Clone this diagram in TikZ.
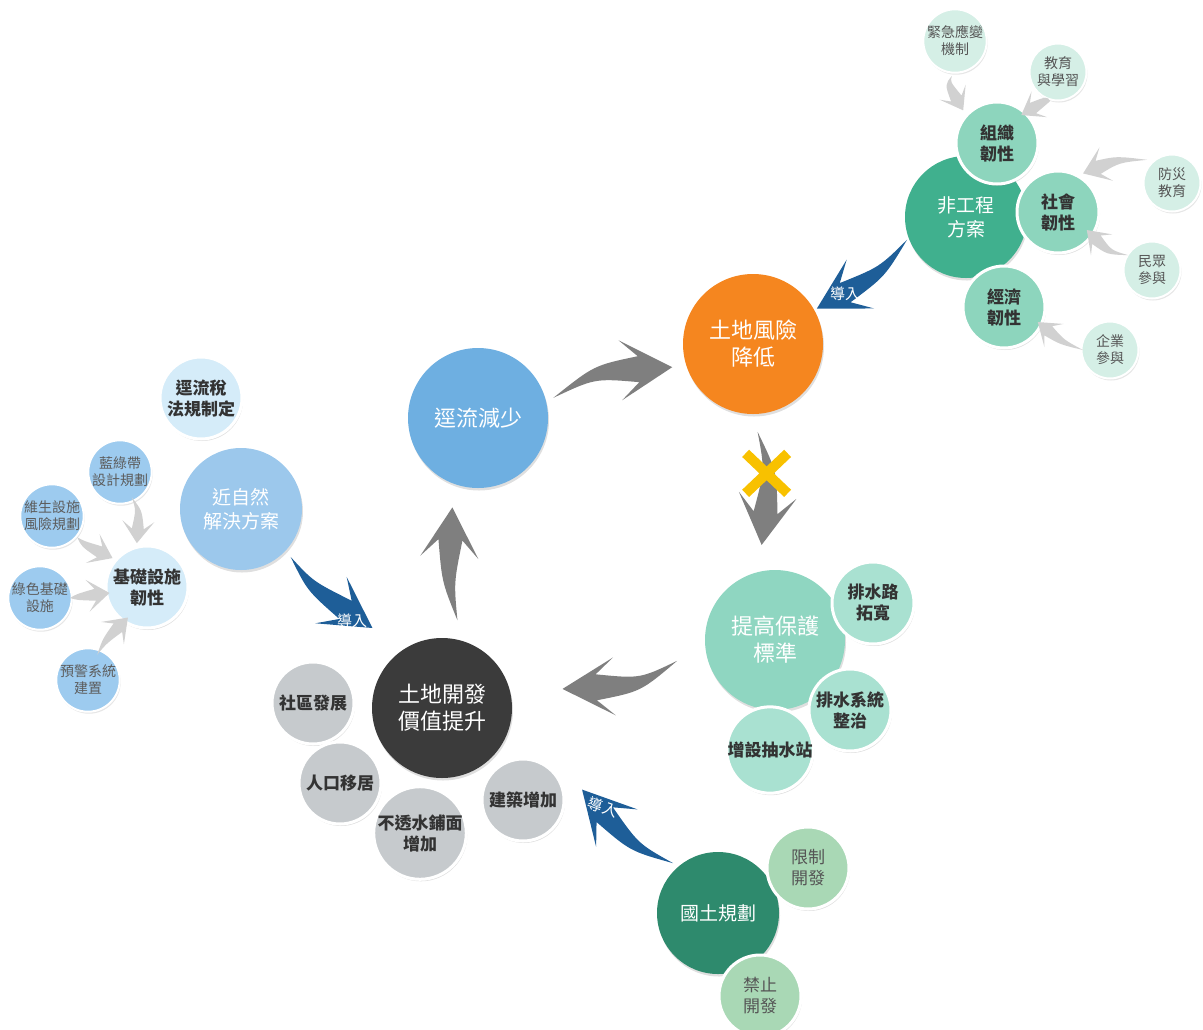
\documentclass[tikz,border=0pt]{standalone}
\usepackage{fontspec}
\setmainfont{Noto Sans CJK TC}
\usepackage{tikz}
\usetikzlibrary{calc,shadows}

\definecolor{runoffBlue}{HTML}{6EAFE1}
\definecolor{riskOrange}{HTML}{F5861F}
\definecolor{protectTeal}{HTML}{8FD6C1}
\definecolor{protectLight}{HTML}{A9E1D1}
\definecolor{devDark}{HTML}{3B3B3B}
\definecolor{devGray}{HTML}{C6CACD}
\definecolor{nonEngTeal}{HTML}{40B08E}
\definecolor{nonEngLight}{HTML}{8DD5BD}
\definecolor{nonEngPale}{HTML}{D5EFE6}
\definecolor{natureBlue}{HTML}{9CC8EC}
\definecolor{naturePale}{HTML}{D5ECF9}
\definecolor{natureLeaf}{HTML}{9DCBEF}
\definecolor{planGreen}{HTML}{2E8A6D}
\definecolor{planLight}{HTML}{A9D8B5}
\definecolor{flowGray}{HTML}{7F7F7F}
\definecolor{feedGray}{HTML}{D1D1D1}
\definecolor{leadBlue}{HTML}{1E5E98}
\definecolor{crossYellow}{HTML}{F8C100}
\definecolor{satText}{HTML}{333333}
\definecolor{leafText}{HTML}{555555}

% tapered curved arrow: style, tail, tip, bend, head length, head half width, body half width
\newcommand\swoosh[7]{%
  \coordinate (sw-c) at ($(#3)!1.5*#5!#4:(#2)$);
  \coordinate (sw-n) at ($(#3)!0.65*#5!(sw-c)$);
  \coordinate (sw-k) at ($(#3)!#5!(sw-c)$);
  \fill[#1] (#2) .. controls ($(sw-c)!0.5*#7!90:(#3)$) .. ($(sw-n)!#7!90:(#3)$)
    -- ($(sw-k)!#6!90:(#3)$) -- (#3) -- ($(sw-k)!#6!-90:(#3)$)
    -- ($(sw-n)!#7!-90:(#3)$) .. controls ($(sw-c)!0.5*#7!-90:(#3)$) .. (#2) -- cycle;}

\begin{document}
\begin{tikzpicture}[x=1pt, y=-1pt,
            hub/.style={circle, inner sep=0pt, minimum size=140pt, align=center, text=white,
                        font=\fontsize{22}{27}\selectfont,
                        drop shadow={shadow xshift=1pt, shadow yshift=-2.5pt, opacity=0.25}},
            subhub/.style={hub, minimum size=122pt, font=\fontsize{19}{24}\selectfont},
            satellite/.style={circle, draw=white, line width=3pt, inner sep=0pt, minimum size=82pt,
                        align=center, text=satText, font=\bfseries\fontsize{17}{21}\selectfont,
                        drop shadow={shadow xshift=1pt, shadow yshift=-2pt, opacity=0.25}},
            leaf/.style={circle, draw=white, line width=2pt, inner sep=0pt, minimum size=57pt,
                        align=center, text=leafText, font=\fontsize{14}{17}\selectfont,
                        drop shadow={shadow xshift=1pt, shadow yshift=-2pt, opacity=0.2}},
            cyclearrow/.style={fill=flowGray},
            leadarrow/.style={fill=leadBlue},
            feedarrow/.style={fill=feedGray},
            leadtext/.style={text=white, inner sep=0pt, font=\fontsize{15}{18}\selectfont},
            crossmark/.style={draw=crossYellow, line width=10pt}]
  \useasboundingbox (0,0) rectangle (1203,1029);

  \node[hub, fill=runoffBlue]  (runoff)  at (478,418) {逕流減少};
  \node[hub, fill=riskOrange]  (risk)    at (753,344) {土地風險\\降低};
  \node[hub, fill=protectTeal] (protect) at (775,640) {提高保護\\標準};
  \node[hub, fill=devDark]     (landdev) at (442,708) {土地開發\\價值提升};

  \node[satellite, fill=devGray] (community) at (313,703) {社區發展};
  \node[satellite, fill=devGray] (migrate)   at (340,783) {人口移居};
  \node[satellite, fill=devGray] (paving)    at (420,833) {不透水鋪面\\增加};
  \node[satellite, fill=devGray] (building)  at (523,800) {建築增加};

  \node[satellite, fill=protectLight] (widen)    at (873,603) {排水路\\拓寬};
  \node[satellite, fill=protectLight] (drainsys) at (850,710) {排水系統\\整治};
  \node[satellite, fill=protectLight] (pump)     at (770,750) {增設抽水站};

  \node[subhub, fill=nonEngTeal] (nonEng) at (966,217) {非工程\\方案};
  \node[satellite, fill=nonEngLight] (org)    at (997,143)  {組織\\韌性};
  \node[satellite, fill=nonEngLight] (social) at (1058,212) {社會\\韌性};
  \node[satellite, fill=nonEngLight] (econ)   at (1004,307) {經濟\\韌性};
  \node[leaf, fill=nonEngPale] (crisis)   at (955,41)   {緊急應變\\機制};
  \node[leaf, fill=nonEngPale] (edu)      at (1058,72)  {教育\\與學習};
  \node[leaf, fill=nonEngPale] (prevent)  at (1172,183) {防災\\教育};
  \node[leaf, fill=nonEngPale] (public)   at (1152,270) {民眾\\參與};
  \node[leaf, fill=nonEngPale] (business) at (1110,350) {企業\\參與};

  \node[satellite, fill=naturePale] (tax) at (201,398) {逕流稅\\法規制定};
  \node[subhub, fill=natureBlue] (nature) at (241,509) {近自然\\解決方案};
  \node[satellite, fill=naturePale] (infra) at (147,587) {基礎設施\\韌性};
  \node[leaf, fill=natureLeaf, text=satText!80] (bluegreen)  at (120,472) {藍綠帶\\設計規劃};
  \node[leaf, fill=natureLeaf, text=satText!80] (lifeline)   at (52,516)  {維生設施\\風險規劃};
  \node[leaf, fill=natureLeaf, text=satText!80] (greeninfra) at (40,598)  {綠色基礎\\設施};
  \node[leaf, fill=natureLeaf, text=satText!80] (warning)    at (88,680)  {預警系統\\建置};

  \node[subhub, fill=planGreen] (landplan) at (718,913) {國土規劃};
  \node[satellite, fill=planLight, text=leafText, font=\fontsize{17}{21}\selectfont] (limit)  at (808,868) {限制\\開發};
  \node[satellite, fill=planLight, text=leafText, font=\fontsize{17}{21}\selectfont] (forbid) at (760,996) {禁止\\開發};

  % main cycle
  \coordinate (f1a) at ($(runoff)+(-15:78)$);
  \coordinate (f1b) at ($(risk)+(164:84)$);
  \swoosh{cyclearrow}{f1a}{f1b}{-11}{52pt}{30pt}{13pt}
  \coordinate (f2a) at ($(risk)+(87:88)$);
  \coordinate (f2b) at ($(protect)+(262:96)$);
  \swoosh{cyclearrow}{f2a}{f2b}{-9}{50pt}{29pt}{12pt}
  \coordinate (f3a) at ($(protect)+(168:100)$);
  \coordinate (f3b) at ($(landdev)+(-9:122)$);
  \swoosh{cyclearrow}{f3a}{f3b}{-11}{52pt}{29pt}{13pt}
  \coordinate (f4a) at ($(landdev)+(-80:89)$);
  \coordinate (f4b) at ($(runoff)+(106:93)$);
  \swoosh{cyclearrow}{f4a}{f4b}{-6}{50pt}{29pt}{12pt}

  \coordinate (block) at ($(risk)!0.437!(protect)+(4,0)$);
  \draw[crossmark] ($(block)+(-21,-20)$) -- ($(block)+(21,20)$)
                   ($(block)+(-21,20)$) -- ($(block)+(21,-20)$);

  % measures brought in
  \coordinate (l1a) at ($(nonEng)+(159:63)$);
  \coordinate (l1b) at ($(risk)+(-29:73)$);
  \swoosh{leadarrow}{l1a}{l1b}{-8}{50pt}{28pt}{11pt}
  \coordinate (l2a) at ($(nature)+(44:69)$);
  \coordinate (l2b) at ($(landdev)+(229:106)$);
  \swoosh{leadarrow}{l2a}{l2b}{7}{50pt}{28pt}{11pt}
  \coordinate (l3a) at ($(landplan)+(228:67)$);
  \coordinate (l3b) at ($(building)+(-10:60)$);
  \swoosh{leadarrow}{l3a}{l3b}{-9}{52pt}{28pt}{11pt}
  \node[leadtext] (lead1) at (845,294) {導入};
  \node[leadtext] (lead2) at (352,621) {導入};
  \node[leadtext, rotate=-20] (lead3) at (603,807) {導入};

  % feeding arrows
  \coordinate (s1a) at ($(crisis)+(95:35)$);
  \coordinate (s1b) at ($(org)+(224:47)$);
  \swoosh{feedarrow}{s1a}{s1b}{12}{21pt}{15pt}{6pt}
  \coordinate (s2a) at ($(edu)+(105:30)$);
  \coordinate (s2b) at ($(org)+(-49:37)$);
  \swoosh{feedarrow}{s2a}{s2b}{5}{21pt}{15pt}{6pt}
  \coordinate (s3a) at ($(prevent)+(223:34)$);
  \coordinate (s3b) at ($(social)+(-57:46)$);
  \swoosh{feedarrow}{s3a}{s3b}{10}{25pt}{18pt}{7pt}
  \coordinate (s4a) at ($(public)+(212:28)$);
  \coordinate (s4b) at ($(social)+(32:34)$);
  \swoosh{feedarrow}{s4a}{s4b}{-14}{21pt}{15pt}{6pt}
  \coordinate (s5a) at ($(business)+(180:27)$);
  \coordinate (s5b) at ($(econ)+(24:37)$);
  \swoosh{feedarrow}{s5a}{s5b}{-8}{21pt}{15pt}{6pt}
  \coordinate (s6a) at ($(bluegreen)+(65:28)$);
  \coordinate (s6b) at ($(infra)+(257:45)$);
  \swoosh{feedarrow}{s6a}{s6b}{-10}{22pt}{16pt}{6pt}
  \coordinate (s7a) at ($(lifeline)+(40:33)$);
  \coordinate (s7b) at ($(infra)+(220:45)$);
  \swoosh{feedarrow}{s7a}{s7b}{5}{22pt}{16pt}{6pt}
  \coordinate (s8a) at ($(greeninfra)+(0:30)$);
  \coordinate (s8b) at ($(infra)+(171:38)$);
  \swoosh{feedarrow}{s8a}{s8b}{0}{22pt}{16pt}{6pt}
  \coordinate (s9a) at ($(warning)+(-70:27)$);
  \coordinate (s9b) at ($(infra)+(122:36)$);
  \swoosh{feedarrow}{s9a}{s9b}{-5}{22pt}{16pt}{6pt}
\end{tikzpicture}
\end{document}
